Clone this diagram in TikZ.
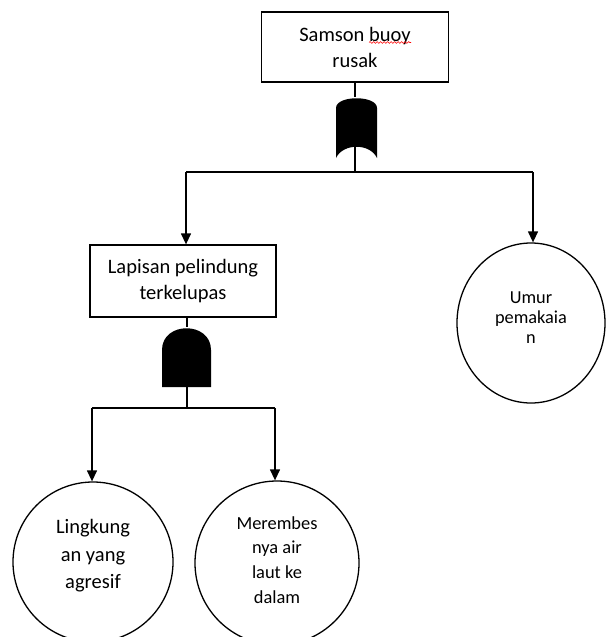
\documentclass[tikz,border=0pt]{standalone}
\usepackage{fontspec}
\setmainfont{Carlito}
\usetikzlibrary{arrows.meta,shapes.geometric,decorations.pathmorphing}
\begin{document}
\begin{tikzpicture}[x=1pt,y=-1pt,
  every node/.style={align=center,inner sep=0pt},
  eventbox/.style={draw,line width=1.3pt,rectangle,font=\fontsize{20.5}{26}\selectfont},
  basicev/.style={draw,line width=1.3pt,ellipse},
  link/.style={line width=1.3pt},
  arr/.style={link,-{Triangle[width=10pt,length=11pt]}},
  gatefill/.style={fill=black}]
\useasboundingbox (0,0) rectangle (606,637);
\clip (0,0) rectangle (606,637);

% events
\node[eventbox,minimum width=187pt,minimum height=70pt] (top) at (355,47) {Samson buoy\\rusak};
\node[eventbox,minimum width=186pt,minimum height=72pt] (mid) at (183,281) {Lapisan pelindung\\terkelupas};

% basic events
\node[basicev,minimum width=148pt,minimum height=160pt] (umur) at (531,323) {};
\node[basicev,minimum width=160pt,minimum height=160pt] (ling) at (93,562) {};
\node[basicev,minimum width=164pt,minimum height=164pt] (mere) at (277,563) {};
\node[font=\fontsize{18.3}{20}\selectfont] (umurtxt) at (531,318) {Umur\\pemakaia\\n};
\node[font=\fontsize{20.5}{27.5}\selectfont] (lingtxt) at (93,556) {Lingkung\\an yang\\agresif};
\node[font=\fontsize{18.4}{24.7}\selectfont] (meretxt) at (277,560) {Merembes\\nya air\\laut ke\\dalam};

% spelling mark under "buoy"
\draw[red,line width=0.6pt,decorate,decoration={snake,segment length=3.5pt,amplitude=0.9pt}] (369,42.5) -- (411,42.5);

% OR gate
\coordinate (orIn) at (355,97);
\coordinate (orOut) at (355,147);
\fill[gatefill] (336,158) -- (336,108) .. controls (336,95) and (377,95) .. (377,108)
  -- (377,158) .. controls (370,143) and (343,143) .. (336,158) -- cycle;

% AND gate
\coordinate (andIn) at (187,327);
\coordinate (andOut) at (187,387);
\fill[gatefill] (162,387) -- (162,350) .. controls (162,321) and (211,321) .. (211,350)
  -- (211,387) -- cycle;

% junctions
\coordinate (barA) at (355,172);
\coordinate (barAL) at (186,172);
\coordinate (barAR) at (533,172);
\coordinate (barB) at (187,408);
\coordinate (barBL) at (92,408);
\coordinate (barBR) at (275,408);

% connectors
\draw[link] (top.south) -- (orIn);
\draw[link] (orOut) -- (barA);
\draw[link] (barAL) -- (barAR);
\draw[arr] (barAL) -- (barAL |- mid.north);
\draw[arr] (barAR) -- (barAR |- umur.north);
\draw[link] (andIn |- mid.south) -- (andIn);
\draw[link] (andOut) -- (barB);
\draw[link] (barBL) -- (barBR);
\draw[arr] (barBL) -- (barBL |- ling.north);
\draw[arr] (barBR) -- (barBR |- mere.north);
\end{tikzpicture}
\end{document}
